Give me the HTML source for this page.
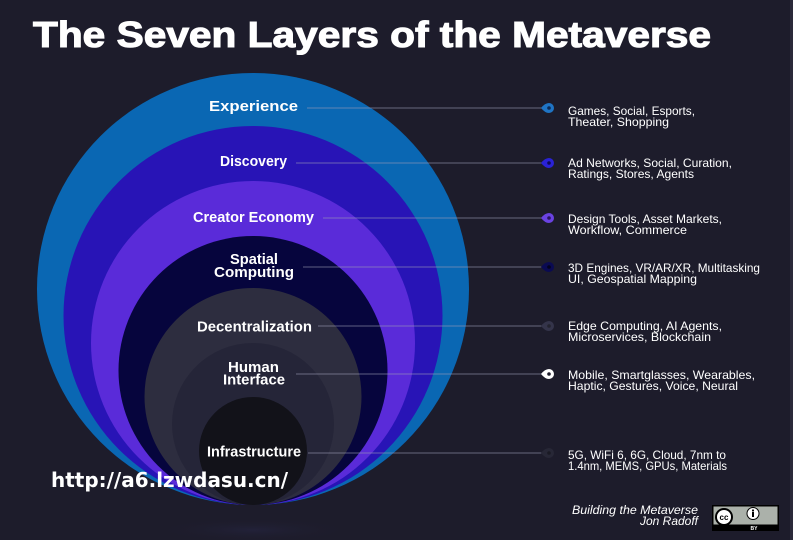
<!DOCTYPE html>
<html>
<head>
<meta charset="utf-8">
<style>
  html, body { margin:0; padding:0; background:#1d1c2b; }
  svg { display:block; }
  .lbl { font-family:"Liberation Sans", sans-serif; font-weight:bold; fill:#ffffff; font-size:15px; }
  .desc { font-family:"Liberation Sans", sans-serif; fill:#ffffff; font-size:12px; }
</style>
</head>
<body>
<svg width="793" height="540" viewBox="0 0 793 540" xmlns="http://www.w3.org/2000/svg">
  <defs>
    <radialGradient id="glow" cx="50%" cy="50%" r="50%">
      <stop offset="0%" stop-color="#34346a" stop-opacity="0.22"/>
      <stop offset="100%" stop-color="#1d1c2b" stop-opacity="0"/>
    </radialGradient>
  </defs>
  <rect x="0" y="0" width="793" height="540" fill="#1d1c2b"/>
  <rect x="790" y="0" width="3" height="540" fill="#2a2939"/>

  <!-- Title -->
  <text x="33" y="47" font-family="Liberation Sans, sans-serif" font-weight="bold" font-size="36" fill="#ffffff" stroke="#ffffff" stroke-width="1.1" textLength="678" lengthAdjust="spacingAndGlyphs">The Seven Layers of the Metaverse</text>

  <!-- bottom reflection glow -->
  <ellipse cx="253" cy="530" rx="100" ry="12" fill="url(#glow)"/>

  <!-- Concentric circles tangent at bottom (y=505) -->
  <circle cx="253" cy="289" r="216" fill="#0a67b3"/>
  <circle cx="253" cy="315.5" r="189.5" fill="#2814b6"/>
  <circle cx="253" cy="343" r="162" fill="#5a2bd9"/>
  <circle cx="253" cy="370.5" r="134.5" fill="#06053d"/>
  <circle cx="253" cy="396.5" r="108.5" fill="#2d2d3f"/>
  <circle cx="253" cy="424" r="81" fill="#252538"/>
  <circle cx="253" cy="451" r="54" fill="#121219"/>

  <!-- Connector lines -->
  <g stroke="#9a9ab4" stroke-opacity="0.6" stroke-width="1">
    <line x1="307" y1="108" x2="544" y2="108"/>
    <line x1="296" y1="163" x2="544" y2="163"/>
    <line x1="323" y1="218" x2="544" y2="218"/>
    <line x1="303" y1="267" x2="544" y2="267"/>
    <line x1="318" y1="326" x2="544" y2="326"/>
    <line x1="296" y1="374" x2="544" y2="374"/>
    <line x1="308" y1="453" x2="544" y2="453"/>
  </g>

  <!-- Teardrop dots -->
  <g>
    <path d="M541 108 Q545 103 549 103 A5 5 0 1 1 549 113 Q545 113 541 108 Z" fill="#1f74c4"/>
    <circle cx="549" cy="108" r="1.8" fill="#0c2a55"/>
    <path d="M541 163 Q545 158 549 158 A5 5 0 1 1 549 168 Q545 168 541 163 Z" fill="#2a22d6"/>
    <circle cx="549" cy="163" r="1.8" fill="#0e0a55"/>
    <path d="M541 218 Q545 213 549 213 A5 5 0 1 1 549 223 Q545 223 541 218 Z" fill="#6a42e2"/>
    <circle cx="549" cy="218" r="1.8" fill="#2a1560"/>
    <path d="M541 267 Q545 262 549 262 A5 5 0 1 1 549 272 Q545 272 541 267 Z" fill="#0a0a52"/>
    <circle cx="549" cy="267" r="1.8" fill="#03031e"/>
    <path d="M541 326 Q545 321 549 321 A5 5 0 1 1 549 331 Q545 331 541 326 Z" fill="#34344a"/>
    <circle cx="549" cy="326" r="1.8" fill="#23232f"/>
    <path d="M541 374 Q545 369 549 369 A5 5 0 1 1 549 379 Q545 379 541 374 Z" fill="#ffffff"/>
    <circle cx="549" cy="374" r="1.8" fill="#1d1c2b"/>
    <path d="M541 453 Q545 448 549 448 A5 5 0 1 1 549 458 Q545 458 541 453 Z" fill="#272736"/>
    <circle cx="549" cy="453" r="1.8" fill="#1a1a24"/>
  </g>

  <!-- Layer labels -->
  <text class="lbl" x="209" y="111" textLength="89" lengthAdjust="spacingAndGlyphs">Experience</text>
  <text class="lbl" x="220" y="166" textLength="67" lengthAdjust="spacingAndGlyphs">Discovery</text>
  <text class="lbl" x="193" y="222" textLength="121" lengthAdjust="spacingAndGlyphs">Creator Economy</text>
  <text class="lbl" x="230" y="264" textLength="48" lengthAdjust="spacingAndGlyphs">Spatial</text>
  <text class="lbl" x="214" y="277" textLength="80" lengthAdjust="spacingAndGlyphs">Computing</text>
  <text class="lbl" x="197" y="331.5" textLength="115" lengthAdjust="spacingAndGlyphs">Decentralization</text>
  <text class="lbl" x="228" y="372" textLength="51" lengthAdjust="spacingAndGlyphs">Human</text>
  <text class="lbl" x="223" y="384.5" textLength="62" lengthAdjust="spacingAndGlyphs">Interface</text>
  <text class="lbl" x="207" y="456.5" textLength="94" lengthAdjust="spacingAndGlyphs">Infrastructure</text>

  <!-- Descriptions -->
  <text class="desc" x="568" y="115" textLength="127" lengthAdjust="spacingAndGlyphs">Games, Social, Esports,</text>
  <text class="desc" x="568" y="126" textLength="101" lengthAdjust="spacingAndGlyphs">Theater, Shopping</text>

  <text class="desc" x="568" y="167" textLength="164" lengthAdjust="spacingAndGlyphs">Ad Networks, Social, Curation,</text>
  <text class="desc" x="568" y="178" textLength="126" lengthAdjust="spacingAndGlyphs">Ratings, Stores, Agents</text>

  <text class="desc" x="568" y="223" textLength="154" lengthAdjust="spacingAndGlyphs">Design Tools, Asset Markets,</text>
  <text class="desc" x="568" y="234" textLength="119" lengthAdjust="spacingAndGlyphs">Workflow, Commerce</text>

  <text class="desc" x="568" y="272" textLength="192" lengthAdjust="spacingAndGlyphs">3D Engines, VR/AR/XR, Multitasking</text>
  <text class="desc" x="568" y="283" textLength="129" lengthAdjust="spacingAndGlyphs">UI, Geospatial Mapping</text>

  <text class="desc" x="568" y="330" textLength="154" lengthAdjust="spacingAndGlyphs">Edge Computing, AI Agents,</text>
  <text class="desc" x="568" y="341" textLength="143" lengthAdjust="spacingAndGlyphs">Microservices, Blockchain</text>

  <text class="desc" x="568" y="379" textLength="187" lengthAdjust="spacingAndGlyphs">Mobile, Smartglasses, Wearables,</text>
  <text class="desc" x="568" y="390" textLength="170" lengthAdjust="spacingAndGlyphs">Haptic, Gestures, Voice, Neural</text>

  <text class="desc" x="568" y="459" textLength="158" lengthAdjust="spacingAndGlyphs">5G, WiFi 6, 6G, Cloud, 7nm to</text>
  <text class="desc" x="568" y="470" textLength="159" lengthAdjust="spacingAndGlyphs">1.4nm, MEMS, GPUs, Materials</text>

  <!-- Credit -->
  <text class="desc" x="572" y="514" font-style="italic" textLength="126" lengthAdjust="spacingAndGlyphs">Building the Metaverse</text>
  <text class="desc" x="640" y="525" font-style="italic" textLength="58" lengthAdjust="spacingAndGlyphs">Jon Radoff</text>

  <!-- CC BY badge -->
  <rect x="712" y="505" width="67" height="26" fill="#000000"/>
  <rect x="713.5" y="506.5" width="64" height="18" fill="#abb1aa"/>
  <circle cx="724" cy="517" r="9" fill="#000000"/>
  <circle cx="724" cy="517" r="7" fill="#ffffff"/>
  <text x="724" y="520" text-anchor="middle" font-family="Liberation Sans, sans-serif" font-weight="bold" font-size="8" fill="#000000">cc</text>
  <circle cx="753" cy="513.5" r="6" fill="#ffffff" stroke="#000" stroke-width="1"/>
  <circle cx="753" cy="510.5" r="1.1" fill="#000"/>
  <rect x="752" y="512" width="2" height="5" fill="#000"/>
  <text x="754" y="530" text-anchor="middle" font-family="Liberation Sans, sans-serif" font-weight="bold" font-size="5" fill="#ffffff">BY</text>

  <!-- Watermark -->
  <text x="51" y="487" font-family="DejaVu Sans, sans-serif" font-weight="bold" font-size="20" fill="#ffffff" textLength="237" lengthAdjust="spacingAndGlyphs">http://a6.lzwdasu.cn/</text>
</svg>
</body>
</html>
